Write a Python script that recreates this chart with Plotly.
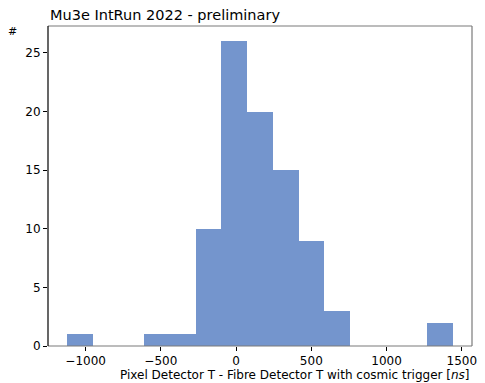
import numpy as np
import plotly.graph_objects as go

# Histogram of time differences, 15 equal bins over the data range
bin_lo = -1122.0
bin_hi = 1440.0
n_bins = 15
counts = [1, 0, 0, 1, 1, 10, 26, 20, 15, 9, 3, 0, 0, 0, 2]

x_ticks = [-1000, -500, 0, 500, 1000, 1500]
x_tick_labels = ["\u22121000", "\u2212500", "0", "500", "1000", "1500"]
y_ticks = [0, 5, 10, 15, 20, 25]

edges = np.linspace(bin_lo, bin_hi, n_bins + 1)
centers = 0.5 * (edges[:-1] + edges[1:])
width = edges[1] - edges[0]

FONT = "DejaVu Sans"
BAR = "#7495cd"
FRAME = "#7a7a7a"

fig = go.Figure()
fig.add_trace(go.Bar(
    x=centers, y=counts, width=[width] * n_bins,
    marker=dict(color=BAR, line=dict(width=0)),
    hoverinfo="x+y", showlegend=False,
))

x_range = [-1250, 1568]
y_range = [0, 27.3]

fig.update_layout(
    width=485, height=383,
    margin=dict(l=48, r=8, t=26, b=37),
    plot_bgcolor="white", paper_bgcolor="white",
    bargap=0,
    font=dict(family=FONT, size=12, color="black"),
    xaxis=dict(
        range=x_range, tickmode="array", tickvals=x_ticks, ticktext=x_tick_labels,
        ticks="outside", ticklen=4, tickwidth=1, tickcolor="black",
        showgrid=False, zeroline=False, showline=False,
        tickfont=dict(family=FONT, size=12),
    ),
    yaxis=dict(
        range=y_range, tickmode="array", tickvals=y_ticks,
        ticks="outside", ticklen=4, tickwidth=1, tickcolor="black",
        showgrid=False, zeroline=False, showline=False,
        tickfont=dict(family=FONT, size=12),
    ),
    shapes=[
        # frame: gray top/right/bottom, black left spine
        dict(type="line", xref="paper", yref="paper", x0=0, x1=1, y0=1, y1=1,
             line=dict(color=FRAME, width=1.2)),
        dict(type="line", xref="paper", yref="paper", x0=1, x1=1, y0=0, y1=1,
             line=dict(color=FRAME, width=1.2)),
        dict(type="line", xref="paper", yref="paper", x0=0, x1=1, y0=0, y1=0,
             line=dict(color=FRAME, width=1.2)),
        dict(type="line", xref="paper", yref="paper", x0=0, x1=0, y0=0, y1=1,
             line=dict(color="black", width=1.2)),
    ],
    annotations=[
        dict(text="Mu3e IntRun 2022 - preliminary", xref="paper", yref="paper",
             x=0, y=1, xanchor="left", yanchor="bottom", yshift=1, showarrow=False,
             font=dict(family=FONT, size=14.5, color="black")),
        dict(text="#", xref="paper", yref="paper", x=0, y=1, xanchor="right",
             yanchor="middle", xshift=-29, yshift=-5, showarrow=False,
             font=dict(family=FONT, size=11, color="black")),
        dict(text="Pixel Detector T - Fibre Detector T with cosmic trigger [<i>ns</i>]",
             xref="paper", yref="paper", x=1, y=0, xanchor="right", yanchor="top",
             yshift=-20, showarrow=False,
             font=dict(family=FONT, size=12, color="black")),
    ],
)

fig.write_html("out.html")
